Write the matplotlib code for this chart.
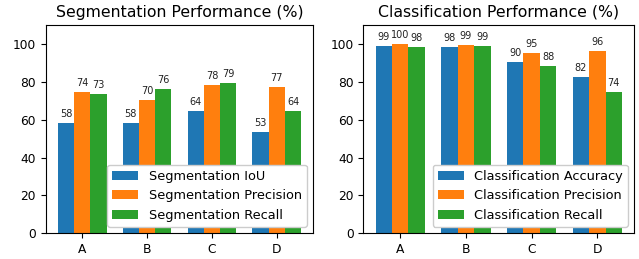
import matplotlib
matplotlib.use("Agg")
import matplotlib.pyplot as plt
import numpy as np

groups = ["A", "B", "C", "D"]

seg_iou = [58.4, 58.4, 64.3, 53.3]
seg_precision = [74.4, 70.2, 78.4, 77.2]
seg_recall = [73.3, 76.1, 79.2, 64.3]

cls_accuracy = [98.8, 98.4, 90.3, 82.3]
cls_precision = [99.7, 99.4, 95.2, 96.3]
cls_recall = [98.4, 98.6, 88.3, 74.4]

seg_names = ["Segmentation IoU", "Segmentation Precision", "Segmentation Recall"]
cls_names = ["Classification Accuracy", "Classification Precision", "Classification Recall"]

colors = ["#1f77b4", "#ff7f0e", "#2ca02c"]
w = 0.25
x = np.arange(len(groups))

fig = plt.figure(figsize=(6.39, 2.59), dpi=100)
ax1 = fig.add_axes([0.0715, 0.099, 0.4188, 0.805])
ax2 = fig.add_axes([0.5685, 0.099, 0.4241, 0.805])


def draw(ax, series, names, title):
    for i, (vals, name) in enumerate(zip(series, names)):
        bars = ax.bar(x + (i - 1) * w, vals, w, color=colors[i], label=name)
        ax.bar_label(bars, fmt="%.0f", padding=3, fontsize=7, color="#222222")
    ax.set_xticks(x)
    ax.set_xticklabels(groups)
    ax.set_ylim(0, 110)
    ax.set_yticks([0, 20, 40, 60, 80, 100])
    ax.tick_params(labelsize=8.8)
    ax.set_title(title, fontsize=11.3)
    ax.legend(loc="lower right", fontsize=9.3, framealpha=1)


draw(ax1, [seg_iou, seg_precision, seg_recall], seg_names, "Segmentation Performance (%)")
draw(ax2, [cls_accuracy, cls_precision, cls_recall], cls_names, "Classification Performance (%)")

fig.savefig("out.png", dpi=100)
